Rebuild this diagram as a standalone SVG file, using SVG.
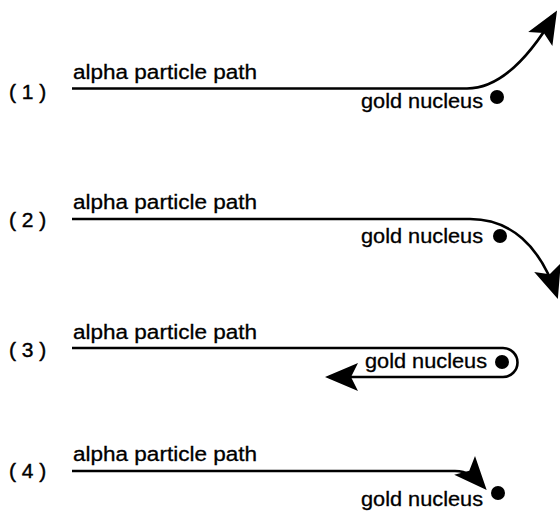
<svg xmlns="http://www.w3.org/2000/svg" width="560" height="514" viewBox="0 0 560 514">
<style>
.t{font-family:"Liberation Sans",Arial,sans-serif;font-size:20px;fill:#000;stroke:#000;stroke-width:0.3}
.n{font-family:"Liberation Sans",Arial,sans-serif;font-size:21px;fill:#000;stroke:#000;stroke-width:0.4}
.p{fill:none;stroke:#000;stroke-width:2.6}
</style>
<defs>
<marker id="ah" viewBox="-36 -16 40 32" markerWidth="40" markerHeight="32" refX="-4" refY="0" orient="auto" markerUnits="userSpaceOnUse">
<path d="M0,0 L-33,-14 L-26,0 L-33,14 Z" fill="#000"/>
</marker>
</defs>
<rect width="560" height="514" fill="#fff"/>
<g id="panel1">
<text class="n" x="9" y="99">( 1 )</text>
<text class="t" x="73" y="79" textLength="184" lengthAdjust="spacingAndGlyphs">alpha particle path</text>
<text class="t" x="361" y="108" textLength="122" lengthAdjust="spacingAndGlyphs">gold nucleus</text>
<circle cx="497" cy="97" r="7"/>
</g>
<g id="panel2">
<text class="n" x="9" y="227">( 2 )</text>
<text class="t" x="73" y="209" textLength="184" lengthAdjust="spacingAndGlyphs">alpha particle path</text>
<text class="t" x="361" y="243" textLength="122" lengthAdjust="spacingAndGlyphs">gold nucleus</text>
<circle cx="500" cy="236" r="7"/>
</g>
<g id="panel3">
<text class="n" x="9" y="357">( 3 )</text>
<text class="t" x="73" y="339" textLength="184" lengthAdjust="spacingAndGlyphs">alpha particle path</text>
<text class="t" x="365" y="368" textLength="122" lengthAdjust="spacingAndGlyphs">gold nucleus</text>
<circle cx="502" cy="362" r="7"/>
</g>
<g id="panel4">
<text class="n" x="9" y="478">( 4 )</text>
<text class="t" x="73" y="461" textLength="184" lengthAdjust="spacingAndGlyphs">alpha particle path</text>
<text class="t" x="361" y="506" textLength="122" lengthAdjust="spacingAndGlyphs">gold nucleus</text>
<circle cx="498" cy="493" r="7"/>
</g>
<g id="connectors">
<path class="p" d="M72,88.5 H467 C505,88.5 535,48 555,14" marker-end="url(#ah)"/>
<path class="p" d="M72,219 H470 C510,219 540,245 556.6,295.2" marker-end="url(#ah)"/>
<path class="p" d="M72,348 H503 A14.5,14.5 0 0 1 503,377 H329" marker-end="url(#ah)"/>
<path class="p" d="M72,471 H455 C467,471 475,477 484,487" marker-end="url(#ah)"/>
</g>
</svg>
